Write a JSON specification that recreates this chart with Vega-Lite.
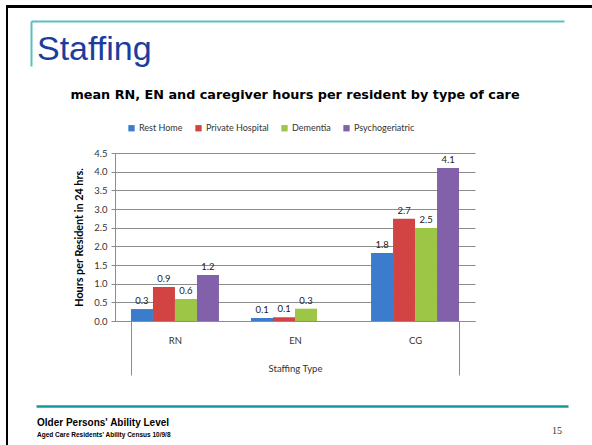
{
  "$schema": "https://vega.github.io/schema/vega-lite/v6.json",
  "padding": {"left": 6, "top": 5, "right": 0, "bottom": 0},
  "background": "white",
  "config": {
    "view": {"stroke": null},
    "font": "Lato"
  },
  "datasets": {
    "hours": [
      {"type": "RN", "care": "Rest Home", "hours": 0.32},
      {"type": "RN", "care": "Private Hospital", "hours": 0.91},
      {"type": "RN", "care": "Dementia", "hours": 0.59},
      {"type": "RN", "care": "Psychogeriatric", "hours": 1.23},
      {"type": "EN", "care": "Rest Home", "hours": 0.08},
      {"type": "EN", "care": "Private Hospital", "hours": 0.1},
      {"type": "EN", "care": "Dementia", "hours": 0.33},
      {"type": "CG", "care": "Rest Home", "hours": 1.82},
      {"type": "CG", "care": "Private Hospital", "hours": 2.74},
      {"type": "CG", "care": "Dementia", "hours": 2.49},
      {"type": "CG", "care": "Psychogeriatric", "hours": 4.1}
    ],
    "slide": [{"slide": "Staffing", "page": "15"}],
    "empty": []
  },
  "spacing": 0,
  "hconcat": [
    {
      "data": {"name": "empty"},
      "width": 2, "height": 440,
      "view": {"fill": "black", "stroke": null},
      "mark": "rule", "encoding": {}
    },
    {
      "spacing": 13,
      "vconcat": [
        {
          "data": {"name": "empty"},
          "width": 584, "height": 3,
          "view": {"fill": "black", "stroke": null},
          "mark": "rule", "encoding": {}
        },
        {
          "spacing": 0,
          "hconcat": [
            {
              "data": {"name": "empty"},
              "width": 23, "height": 1,
              "mark": "rule", "encoding": {}
            },
            {
              "spacing": 22,
              "vconcat": [
                {
                  "data": {"name": "slide"},
                  "width": 533, "height": 45,
                  "mark": {"type": "text", "align": "left", "baseline": "alphabetic", "font": "Liberation Sans", "fontSize": 34, "color": "#1C3D9E", "dx": 6, "dy": 16},
                  "encoding": {
                    "x": {"field": "slide", "type": "nominal", "bandPosition": 0,
                      "scale": {"type": "band", "paddingInner": 0, "paddingOuter": 0},
                      "axis": {"orient": "top", "title": null, "labels": false, "ticks": false, "grid": false, "domainColor": "#5BBFBF", "domainWidth": 2}},
                    "y": {"field": "slide", "type": "nominal",
                      "scale": {"type": "band", "paddingInner": 0, "paddingOuter": 0},
                      "axis": {"orient": "left", "title": null, "labels": false, "ticks": false, "grid": false, "domainColor": "#5BBFBF", "domainWidth": 2}},
                    "text": {"field": "slide"}
                  }
                },
                {
                  "spacing": 30,
                  "vconcat": [
                    {
                      "spacing": 0,
                      "hconcat": [
                        {
                          "data": {"name": "empty"},
                          "width": 39, "height": 1,
                          "mark": "rule", "encoding": {}
                        },
                        {
                          "data": {"name": "hours"},
                          "width": 360, "height": 168,
                          "title": {"text": "mean RN, EN and caregiver hours per resident by type of care", "font": "DejaVu Sans", "fontSize": 12.8, "fontWeight": "bold", "color": "black", "anchor": "middle", "frame": "group", "offset": 46},
                          "encoding": {
                            "x": {"field": "type", "type": "nominal", "sort": ["RN", "EN", "CG"],
                              "scale": {"type": "band", "paddingInner": 0.267, "paddingOuter": 0.133},
                              "axis": {"title": "Staffing Type", "titleFont": "Lato", "titleFontSize": 9.5, "titleFontWeight": "normal", "titleColor": "#333", "titlePadding": -12,
                                "labelAngle": 0, "labelFont": "Lato", "labelFontSize": 9.5, "labelColor": "#333", "labelPadding": -40,
                                "tickBand": "extent", "tickSize": 54, "tickColor": "#8c8c8c",
                                "tickOpacity": {"condition": {"test": "datum.index >= 0 && datum.index < 1", "value": 0}, "value": 1},
                                "domainColor": "#8c8c8c"}},
                            "xOffset": {"field": "care", "type": "nominal",
                              "scale": {"type": "band", "domain": ["Rest Home", "Private Hospital", "Dementia", "Psychogeriatric"], "paddingInner": 0, "paddingOuter": 0}},
                            "y": {"field": "hours", "type": "quantitative",
                              "scale": {"domain": [0, 4.5]},
                              "axis": {"title": "Hours per Resident in 24 hrs.", "titleFont": "Lato", "titleFontSize": 10.8, "titleFontWeight": "bold", "titleColor": "black", "titlePadding": 9,
                                "values": [0, 0.5, 1, 1.5, 2, 2.5, 3, 3.5, 4, 4.5], "format": ".1f",
                                "labelFont": "Lato", "labelFontSize": 9.5, "labelColor": "#333", "labelPadding": 4,
                                "tickSize": 4, "tickColor": "#8c8c8c", "domainColor": "#8c8c8c", "grid": true, "gridColor": "#8c8c8c"}}
                          },
                          "layer": [
                            {
                              "mark": {"type": "bar"},
                              "encoding": {
                                "color": {"field": "care", "type": "nominal",
                                  "scale": {"domain": ["Rest Home", "Private Hospital", "Dementia", "Psychogeriatric"], "range": ["#3B7DCC", "#D24443", "#9DC546", "#8260AA"]},
                                  "legend": {"orient": "none", "legendX": 121, "legendY": 118.5, "direction": "horizontal", "title": null,
                                    "symbolType": "square", "symbolSize": 40, "symbolStrokeWidth": 0, "symbolOpacity": 1,
                                    "labelFont": "Lato", "labelFontSize": 9, "labelColor": "#333", "columnPadding": 11, "labelOffset": 3}}
                              }
                            },
                            {
                              "mark": {"type": "text", "baseline": "bottom", "dy": -3, "font": "Lato", "fontSize": 9.5, "color": "#222"},
                              "encoding": {"text": {"field": "hours", "type": "quantitative", "format": ".1f"}}
                            }
                          ]
                        }
                      ]
                    },
                    {
                      "spacing": 0,
                      "hconcat": [
                        {
                          "data": {"name": "empty"},
                          "width": 5, "height": 1,
                          "mark": "rule", "encoding": {}
                        },
                        {
                          "data": {"name": "slide"},
                          "width": 532, "height": 30,
                          "title": {"text": "Older Persons' Ability Level", "subtitle": "Aged Care Residents' Ability Census  10/9/8", "orient": "top", "anchor": "start", "frame": "group", "offset": -32, "dx": 1,
                            "font": "Liberation Sans", "fontSize": 10, "fontWeight": "bold", "color": "black",
                            "subtitleFont": "Liberation Sans", "subtitleFontSize": 6.5, "subtitleFontWeight": "bold", "subtitleColor": "black", "subtitlePadding": 4},
                          "mark": {"type": "text", "align": "right", "baseline": "middle", "font": "Liberation Serif", "fontSize": 10, "color": "#333", "dx": -6, "dy": 10},
                          "encoding": {
                            "x": {"field": "page", "type": "nominal", "bandPosition": 1,
                              "scale": {"type": "band", "paddingInner": 0, "paddingOuter": 0},
                              "axis": {"orient": "top", "title": null, "labels": false, "ticks": false, "grid": false, "domainColor": "#139A9A", "domainWidth": 2.5}},
                            "text": {"field": "page"}
                          }
                        }
                      ]
                    }
                  ]
                }
              ]
            }
          ]
        }
      ]
    }
  ]
}
